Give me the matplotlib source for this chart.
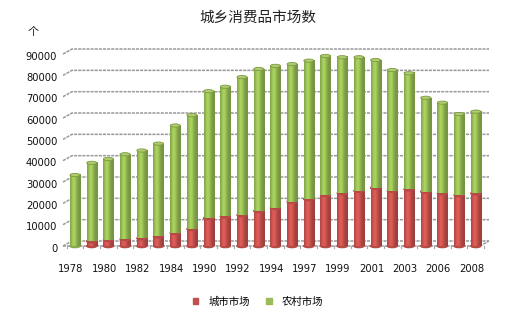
import numpy as np
import matplotlib
matplotlib.use('Agg')
import matplotlib.pyplot as plt
from matplotlib.patches import Ellipse, Patch

plt.rcParams['font.family'] = ['Noto Sans CJK SC', 'DejaVu Sans']

# data
years = [1978, 1979, 1980, 1981, 1982, 1983, 1984, 1985, 1990, 1991, 1992, 1993,
         1994, 1995, 1997, 1998, 1999, 2000, 2001, 2002, 2003, 2005, 2006, 2007, 2008]
shown = ['1978', '1980', '1982', '1984', '1990', '1992', '1994', '1997', '1999',
         '2001', '2003', '2006', '2008']
urban = [0, 2226, 2919, 3298, 3591, 4488, 6144, 8013, 13106, 13891, 14510, 16450,
         17892, 20800, 22000, 23900, 24700, 25900, 27300, 25900, 26600, 25500, 24700, 23900, 24700]
total = [33302, 38993, 40809, 43013, 44775, 48003, 56500, 61337, 72579, 74675, 79188, 83001,
         84463, 85300, 86900, 89100, 88500, 88500, 87200, 82500, 81000, 69500, 67200, 61900, 63000]
rural = [t - u for t, u in zip(total, urban)]
yticks = list(range(0, 90001, 10000))

W, H = 514, 323
fig = plt.figure(figsize=(W / 100, H / 100), dpi=100)
# axes placed in pixel terms
L, R, T, B = 60, 492, 44, 252
ax = fig.add_axes([L / W, 1 - B / H, (R - L) / W, (B - T) / H])
ax.axis('off')

px_x = 16.7          # pixels per category
px_y = 0.002133      # pixels per unit
x0_px, y0_px = 75, 246
xlim = ((L - x0_px) / px_x, (R - x0_px) / px_x)
ylim = ((y0_px - B) / px_y, (y0_px - T) / px_y)

# back wall / floor
dx, dy = 9 / px_x, 5 / px_y
xl = (63 - x0_px) / px_x
xr = (489 - x0_px) / px_x
grid_kw = dict(color='#999999', lw=1.1, ls=(0, (2, 0.7)), zorder=1)
for v in yticks:
    ax.plot([xl, xl + dx, xr], [v, v + dy, v + dy], **grid_kw)
    ax.text(xl - 0.35, v - 1300, str(v), ha='right', va='center', fontsize=7.2,
            family='DejaVu Sans', color='#111111')
ax.plot([xl, xr - dx, xr], [0, 0, dy], **grid_kw)
for i in range(len(years) + 1):
    xt = i - 0.5
    ax.plot([xt, xt], [0, -900], color='#a6a6a6', lw=0.8, zorder=1)

w = 0.6
eh = 1500


def shade(base, n=24):
    base = np.array(matplotlib.colors.to_rgb(base))
    t = np.linspace(0, 1, n)
    f = 0.8 + 0.35 * np.exp(-((t - 0.35) / 0.3) ** 2)
    c = np.clip(base[None, :] * f[:, None], 0, 1)
    return c[None, :, :]


red_img = shade('#c4504c')
green_img = shade('#94b853')

for i, (u, t) in enumerate(zip(urban, total)):
    z = 3 + i * 0.01
    if u > 0:
        ax.add_patch(Ellipse((i, 0), w, eh, color='#b54a47', zorder=z))
        ax.imshow(red_img, extent=(i - w / 2, i + w / 2, 0, u), aspect='auto',
                  zorder=z, interpolation='bilinear')
        ax.add_patch(Ellipse((i, u), w, eh, color='#b54a47', zorder=z))
    else:
        ax.add_patch(Ellipse((i, 0), w, eh, color='#8aa84c', zorder=z))
    ax.imshow(green_img, extent=(i - w / 2, i + w / 2, u, t), aspect='auto',
              zorder=z, interpolation='bilinear')
    ax.add_patch(Ellipse((i, t), w, eh, facecolor='#b0cc70', edgecolor='#7c9a40',
                         lw=0.6, zorder=z))

ax.set_xlim(*xlim)
ax.set_ylim(*ylim)

for k, lab in enumerate(shown):
    ax.text(2 * k - 0.25, (y0_px - 269) / px_y, lab, ha='center', va='center',
            fontsize=7.2, family='DejaVu Sans', color='#111111')

fig.text(258 / W, 1 - 18 / H, '城乡消费品市场数', ha='center', va='center',
         fontsize=10.5, color='#222222')
fig.text(33 / W, 1 - 32 / H, '个', ha='center', va='center', fontsize=8, color='#222222')

handles = [Patch(facecolor='#c0504d', edgecolor='#c0504d'),
           Patch(facecolor='#9bbb59', edgecolor='#9bbb59')]
fig.legend(handles, ['城市市场', '农村市场'], loc='center', ncol=2, frameon=False,
           bbox_to_anchor=(258 / W, 1 - 302 / H), fontsize=7.5, handlelength=0.5,
           handleheight=0.5, handletextpad=1.0, columnspacing=1.6)

fig.savefig('out.png', dpi=100)
